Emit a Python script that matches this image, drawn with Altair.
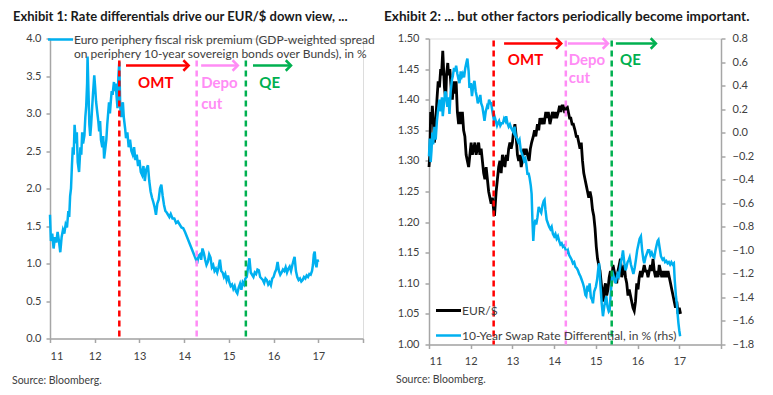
import altair as alt
import pandas as pd

# ---------------- data ----------------
left_t = [11.00, 11.02, 11.05, 11.08, 11.11, 11.14, 11.17, 11.20, 11.23, 11.26, 11.29, 11.32, 11.35, 11.38,
          11.41, 11.43, 11.45, 11.47, 11.49, 11.51, 11.53, 11.55, 11.58, 11.60, 11.62, 11.65, 11.68, 11.70,
          11.72, 11.74, 11.77, 11.79, 11.81, 11.83, 11.84, 11.86, 11.88, 11.90, 11.92, 11.94, 11.96, 11.99,
          12.01, 12.03, 12.06, 12.08, 12.10, 12.12, 12.14, 12.17, 12.19, 12.21, 12.23, 12.26, 12.28, 12.30,
          12.32, 12.34, 12.36, 12.38, 12.40, 12.43, 12.45, 12.47, 12.49, 12.51, 12.53, 12.55, 12.57, 12.59,
          12.61, 12.63, 12.65, 12.68, 12.70, 12.73, 12.76, 12.79, 12.82, 12.85, 12.88, 12.91, 12.94, 12.97,
          13.00, 13.03, 13.06, 13.09, 13.12, 13.15, 13.19, 13.22, 13.25, 13.28, 13.31, 13.34, 13.37, 13.40,
          13.43, 13.46, 13.49, 13.52, 13.55, 13.58, 13.61, 13.64, 13.67, 13.70, 13.74, 13.78, 13.82, 13.86,
          13.90, 13.94, 13.98, 14.02, 14.06, 14.10, 14.14, 14.18, 14.22, 14.26, 14.29, 14.32, 14.35, 14.38,
          14.41, 14.44, 14.47, 14.50, 14.53, 14.56, 14.59, 14.62, 14.65, 14.68, 14.71, 14.74, 14.77, 14.80,
          14.83, 14.86, 14.89, 14.92, 14.95, 14.98, 15.01, 15.04, 15.07, 15.10, 15.13, 15.16, 15.19, 15.22,
          15.25, 15.28, 15.31, 15.34, 15.37, 15.40, 15.43, 15.46, 15.49, 15.52, 15.55, 15.58, 15.61, 15.64,
          15.67, 15.70, 15.73, 15.76, 15.79, 15.82, 15.85, 15.88, 15.91, 15.94, 15.97, 16.00, 16.03, 16.06,
          16.09, 16.12, 16.15, 16.18, 16.21, 16.24, 16.27, 16.30, 16.33, 16.36, 16.39, 16.42, 16.45, 16.47,
          16.50, 16.53, 16.56, 16.59, 16.62, 16.65, 16.68, 16.71, 16.74, 16.77, 16.80, 16.83, 16.86, 16.88,
          16.90, 16.92, 16.94, 16.96, 16.98, 17.00]
left_v = [1.65, 1.30, 1.40, 1.20, 1.35, 1.28, 1.42, 1.30, 1.15, 1.35, 1.45, 1.40, 1.52, 1.48,
          1.70, 1.62, 1.90, 2.00, 2.30, 2.55, 2.45, 2.85, 2.60, 2.75, 2.35, 2.22, 2.55, 2.45,
          2.75, 2.60, 2.71, 2.95, 3.10, 3.40, 3.76, 3.30, 2.85, 2.70, 2.85, 3.05, 3.25, 3.51,
          3.35, 3.16, 3.00, 2.90, 2.76, 2.90, 2.65, 2.55, 2.70, 2.40, 2.50, 2.65, 2.85, 3.00,
          3.15, 3.00, 3.16, 3.30, 3.25, 3.42, 3.30, 3.40, 3.22, 3.07, 3.50, 3.69, 3.10, 2.95,
          3.07, 3.15, 2.95, 2.80, 2.67, 2.75, 2.55, 2.65, 2.50, 2.45, 2.55, 2.38, 2.45, 2.30,
          2.38, 2.22, 2.18, 2.30, 2.10, 2.25, 2.31, 2.10, 1.96, 1.88, 1.82, 1.75, 1.65, 1.80,
          1.85, 2.00, 2.05, 1.90, 1.78, 1.70, 1.68, 1.65, 1.62, 1.66, 1.60, 1.60, 1.54, 1.56,
          1.52, 1.48, 1.47, 1.42, 1.36, 1.30, 1.24, 1.18, 1.12, 1.06, 1.00, 1.10, 1.12, 1.05,
          1.20, 1.14, 1.05, 0.98, 1.02, 1.12, 1.08, 0.95, 0.98, 0.90, 0.93, 0.88, 0.95, 1.05,
          0.90, 0.88, 0.82, 0.86, 0.78, 0.84, 0.75, 0.70, 0.72, 0.66, 0.70, 0.63, 0.60, 0.68,
          0.73, 0.65, 0.75, 0.72, 0.80, 0.82, 0.95, 1.07, 0.88, 0.85, 0.82, 0.88, 0.86, 0.92,
          0.91, 0.82, 0.80, 0.78, 0.74, 0.80, 0.78, 0.72, 0.75, 0.71, 0.80, 0.82, 0.88, 0.92,
          1.02, 0.90, 0.85, 0.88, 0.92, 0.90, 0.95, 0.88, 0.93, 0.96, 0.90, 0.98, 1.05, 1.09,
          0.90, 0.82, 0.78, 0.80, 0.76, 0.78, 0.82, 0.80, 0.84, 0.82, 0.86, 0.85, 0.90, 0.98,
          1.12, 1.16, 1.00, 0.95, 1.05, 1.02]

eur_t = [11.00, 11.02, 11.04, 11.06, 11.08, 11.10, 11.13, 11.16, 11.19, 11.22, 11.25, 11.28, 11.30, 11.33,
         11.35, 11.37, 11.40, 11.42, 11.45, 11.47, 11.50, 11.53, 11.56, 11.59, 11.62, 11.65, 11.68, 11.71,
         11.74, 11.77, 11.80, 11.83, 11.86, 11.89, 11.92, 11.95, 11.98, 12.01, 12.04, 12.07, 12.10, 12.13,
         12.16, 12.19, 12.22, 12.25, 12.28, 12.31, 12.34, 12.37, 12.40, 12.43, 12.46, 12.49, 12.52, 12.55,
         12.57, 12.59, 12.61, 12.64, 12.67, 12.70, 12.73, 12.76, 12.79, 12.82, 12.85, 12.88, 12.91, 12.94,
         12.97, 13.00, 13.03, 13.06, 13.09, 13.12, 13.15, 13.18, 13.21, 13.24, 13.27, 13.30, 13.33, 13.36,
         13.40, 13.43, 13.46, 13.50, 13.53, 13.56, 13.60, 13.63, 13.66, 13.70, 13.73, 13.76, 13.80, 13.83,
         13.86, 13.90, 13.93, 13.96, 14.00, 14.03, 14.06, 14.10, 14.13, 14.16, 14.19, 14.22, 14.25, 14.28,
         14.31, 14.34, 14.37, 14.40, 14.43, 14.46, 14.50, 14.53, 14.56, 14.59, 14.62, 14.65, 14.68, 14.71,
         14.74, 14.77, 14.80, 14.83, 14.86, 14.89, 14.92, 14.95, 14.98, 15.01, 15.04, 15.07, 15.10, 15.13,
         15.16, 15.18, 15.20, 15.23, 15.26, 15.29, 15.32, 15.35, 15.38, 15.41, 15.44, 15.47, 15.50, 15.53,
         15.56, 15.59, 15.62, 15.65, 15.68, 15.71, 15.74, 15.77, 15.80, 15.83, 15.86, 15.89, 15.92, 15.95,
         15.98, 16.01, 16.04, 16.07, 16.10, 16.13, 16.16, 16.19, 16.22, 16.25, 16.28, 16.31, 16.34, 16.37,
         16.40, 16.43, 16.46, 16.49, 16.52, 16.55, 16.58, 16.61, 16.64, 16.67, 16.70, 16.73, 16.76, 16.79,
         16.82, 16.85, 16.88, 16.91, 16.94, 16.97, 17.00, 17.03]
eur_v = [1.29, 1.31, 1.38, 1.36, 1.39, 1.37, 1.33, 1.36, 1.40, 1.43, 1.42, 1.45, 1.44, 1.48,
         1.45, 1.42, 1.40, 1.44, 1.46, 1.44, 1.45, 1.42, 1.40, 1.43, 1.41, 1.43, 1.38, 1.36,
         1.38, 1.36, 1.38, 1.35, 1.34, 1.31, 1.30, 1.29, 1.31, 1.33, 1.31, 1.32, 1.33, 1.31,
         1.32, 1.33, 1.31, 1.32, 1.30, 1.28, 1.27, 1.29, 1.27, 1.25, 1.24, 1.23, 1.24, 1.22,
         1.21, 1.23, 1.25, 1.27, 1.29, 1.30, 1.28, 1.31, 1.30, 1.29, 1.31, 1.30, 1.32, 1.33,
         1.32, 1.33, 1.35, 1.36, 1.34, 1.31, 1.30, 1.31, 1.29, 1.30, 1.32, 1.31, 1.32, 1.31,
         1.30, 1.32, 1.33, 1.34, 1.35, 1.34, 1.36, 1.35, 1.37, 1.36, 1.37, 1.36, 1.38, 1.37,
         1.38, 1.36, 1.37, 1.38, 1.37, 1.38, 1.37, 1.38, 1.39, 1.38, 1.39, 1.39, 1.38, 1.38,
         1.39, 1.38, 1.37, 1.37, 1.36, 1.36, 1.35, 1.34, 1.34, 1.33, 1.32, 1.33, 1.30, 1.28,
         1.27, 1.26, 1.25, 1.24, 1.25, 1.24, 1.22, 1.21, 1.19, 1.16, 1.14, 1.13, 1.12, 1.10,
         1.08, 1.07, 1.09, 1.10, 1.08, 1.09, 1.11, 1.12, 1.10, 1.13, 1.12, 1.11, 1.10, 1.12,
         1.13, 1.14, 1.11, 1.12, 1.13, 1.11, 1.10, 1.08, 1.09, 1.08, 1.07, 1.06, 1.055, 1.07,
         1.10, 1.09, 1.11, 1.12, 1.11, 1.12, 1.13, 1.12, 1.12, 1.11, 1.12, 1.13, 1.12, 1.14,
         1.12, 1.11, 1.12, 1.11, 1.13, 1.12, 1.11, 1.12, 1.11, 1.12, 1.11, 1.12, 1.11, 1.10,
         1.09, 1.08, 1.07, 1.06, 1.07, 1.05, 1.06, 1.05]

swap_t = [11.00, 11.02, 11.04, 11.06, 11.08, 11.10, 11.13, 11.16, 11.19, 11.22, 11.25, 11.28, 11.31, 11.33,
          11.36, 11.39, 11.41, 11.44, 11.47, 11.49, 11.52, 11.55, 11.57, 11.60, 11.63, 11.65, 11.68, 11.71,
          11.73, 11.76, 11.79, 11.81, 11.84, 11.87, 11.90, 11.92, 11.95, 11.97, 12.00, 12.03, 12.06, 12.09,
          12.12, 12.15, 12.17, 12.20, 12.23, 12.25, 12.28, 12.31, 12.33, 12.36, 12.39, 12.41, 12.44, 12.47,
          12.49, 12.52, 12.55, 12.57, 12.60, 12.63, 12.65, 12.68, 12.71, 12.74, 12.77, 12.80, 12.83, 12.85,
          12.88, 12.91, 12.94, 12.97, 13.00, 13.03, 13.05, 13.08, 13.11, 13.14, 13.17, 13.20, 13.23, 13.25,
          13.28, 13.31, 13.33, 13.36, 13.39, 13.41, 13.44, 13.46, 13.48, 13.50, 13.52, 13.55, 13.57, 13.60,
          13.63, 13.66, 13.69, 13.72, 13.75, 13.77, 13.79, 13.82, 13.85, 13.88, 13.91, 13.94, 13.97, 14.00,
          14.03, 14.06, 14.09, 14.12, 14.15, 14.18, 14.21, 14.24, 14.27, 14.30, 14.33, 14.36, 14.39, 14.42,
          14.45, 14.48, 14.51, 14.54, 14.57, 14.60, 14.63, 14.66, 14.69, 14.72, 14.75, 14.77, 14.80, 14.83,
          14.85, 14.88, 14.91, 14.93, 14.96, 15.00, 15.03, 15.06, 15.08, 15.11, 15.14, 15.17, 15.20, 15.23,
          15.25, 15.28, 15.31, 15.33, 15.36, 15.39, 15.41, 15.44, 15.47, 15.49, 15.52, 15.55, 15.57, 15.60,
          15.63, 15.65, 15.68, 15.71, 15.73, 15.76, 15.79, 15.81, 15.84, 15.87, 15.90, 15.93, 15.96, 15.99,
          16.02, 16.05, 16.08, 16.11, 16.14, 16.16, 16.19, 16.22, 16.25, 16.28, 16.31, 16.34, 16.37, 16.40,
          16.43, 16.46, 16.48, 16.50, 16.53, 16.56, 16.60, 16.63, 16.66, 16.69, 16.72, 16.75, 16.78, 16.81,
          16.84, 16.87, 16.89, 16.92, 16.94, 16.96, 16.98, 17.00, 17.02]
swap_v = [-0.20, -0.05, -0.25, -0.15, 0.00, -0.10, 0.05, -0.06, 0.10, 0.20, 0.28, 0.18, 0.30, 0.14,
          0.25, 0.35, 0.33, 0.22, 0.30, 0.16, 0.35, 0.45, 0.48, 0.55, 0.52, 0.57, 0.50, 0.45,
          0.42, 0.52, 0.48, 0.50, 0.47, 0.55, 0.60, 0.63, 0.52, 0.38, 0.42, 0.31, 0.40, 0.44,
          0.35, 0.30, 0.25, 0.28, 0.32, 0.25, 0.22, 0.15, 0.10, 0.18, 0.22, 0.20, 0.28, 0.25,
          0.25, 0.18, 0.12, 0.14, 0.10, 0.06, 0.08, 0.10, 0.06, 0.08, 0.08, 0.12, 0.10, 0.14,
          0.08, 0.05, 0.07, 0.04, 0.02, 0.00, 0.05, -0.03, -0.05, -0.08, -0.06, -0.15, -0.18, -0.20,
          -0.24, -0.22, -0.26, -0.35, -0.35, -0.38, -0.45, -0.52, -0.75, -0.92, -0.80, -0.74, -0.78, -0.72,
          -0.63, -0.66, -0.68, -0.62, -0.58, -0.57, -0.65, -0.74, -0.77, -0.80, -0.82, -0.80, -0.86, -0.88,
          -0.86, -0.90, -0.88, -0.92, -0.95, -0.94, -0.97, -0.96, -0.99, -1.02, -1.00, -1.04, -1.06, -1.08,
          -1.11, -1.10, -1.14, -1.15, -1.17, -1.20, -1.22, -1.25, -1.28, -1.32, -1.38, -1.39, -1.30, -1.35,
          -1.28, -1.40, -1.42, -1.45, -1.35, -1.31, -1.25, -1.15, -1.11, -1.30, -1.45, -1.56, -1.48, -1.42,
          -1.39, -1.48, -1.52, -1.51, -1.35, -1.22, -1.20, -1.24, -1.28, -1.25, -1.20, -1.22, -1.17, -1.10,
          -1.05, -1.00, -1.10, -1.17, -1.15, -1.10, -1.08, -1.06, -1.12, -1.16, -1.20, -1.15, -1.08, -1.00,
          -0.95, -0.90, -0.88, -1.00, -1.08, -1.11, -1.06, -1.03, -1.00, -1.00, -1.04, -1.02, -1.05, -1.06,
          -1.00, -0.95, -0.92, -0.91, -0.98, -1.05, -1.08, -1.07, -1.10, -1.09, -1.11, -1.10, -1.12, -1.10,
          -1.12, -1.11, -1.25, -1.39, -1.45, -1.54, -1.62, -1.68, -1.73]

x_ticks = [11, 12, 13, 14, 15, 16, 17, 18]
left_y_ticks = [0.0, 0.5, 1.0, 1.5, 2.0, 2.5, 3.0, 3.5, 4.0]
eur_ticks = [1.00, 1.05, 1.10, 1.15, 1.20, 1.25, 1.30, 1.35, 1.40, 1.45, 1.50]
swap_ticks = [-1.8, -1.6, -1.4, -1.2, -1.0, -0.8, -0.6, -0.4, -0.2, 0.0, 0.2, 0.4, 0.6, 0.8]

event_dates = [12.55, 14.28, 15.38]
event_colors = ["#FF0000", "#FF8CF5", "#00B050"]
event_labels = ["OMT", "Depo", "QE"]
arrow_start_left = [12.70, 14.38, 15.54]
arrow_end_left = [14.10, 15.20, 16.39]
arrow_start_right = [12.80, 14.33, 15.48]
arrow_end_right = [14.17, 15.29, 16.44]
label_x_left = [12.97, 14.38, 15.68]
label_x_right = [12.89, 14.35, 15.58]

title_left = "Exhibit 1: Rate differentials drive our EUR/$ down view, ..."
title_right = "Exhibit 2: ... but other factors periodically become important."
legend_left = ["Euro periphery fiscal risk premium (GDP-weighted spread",
               "on periphery 10-year sovereign bonds over Bunds), in %"]
legend_right = ["EUR/$", "10-Year Swap Rate Differential, in % (rhs)"]
source_text = "Source: Bloomberg."

# ---------------- styling ----------------
W1, H1 = 313, 300
W2, H2 = 292, 306
FONT = "Lato"
AX = "#A6A6A6"
LBL = "#404040"
BLUE = "#00B0F0"

xscale = alt.Scale(domain=[11, 18], nice=False, zero=False)


def x_axis(pad):
    return alt.Axis(values=x_ticks, format="d", labelExpr="datum.value < 18 ? datum.label : ''",
                    grid=False, title=None, domainColor=AX, domainWidth=1.5, tickColor=AX,
                    tickWidth=1.5, tickSize=4, labelFont=FONT, labelFontSize=11, labelColor=LBL,
                    labelPadding=pad)


def y_axis(values, fmt, orient, pad):
    return alt.Axis(values=values, format=fmt, orient=orient, grid=False, title=None,
                    domainColor=AX, domainWidth=1.5, tickColor=AX, tickWidth=1.5, tickSize=4,
                    labelFont=FONT, labelFontSize=11, labelColor=LBL, labelPadding=pad)


def events_layers(a_start, a_end, lab_x, top, arrow_y, lab_y, cut_y, height):
    ev = pd.DataFrame({"t": event_dates, "color": event_colors})
    rules = alt.Chart(ev).mark_rule(strokeDash=[6, 4], strokeWidth=2.5).encode(
        x=alt.X("t:Q", scale=xscale), y=alt.value(top), y2=alt.value(height),
        color=alt.Color("color:N", scale=None))
    ar = pd.DataFrame({"t": a_start, "t2": a_end, "color": event_colors})
    shafts = alt.Chart(ar).mark_rule(strokeWidth=2.5).encode(
        x=alt.X("t:Q", scale=xscale), x2="t2:Q", y=alt.value(arrow_y),
        color=alt.Color("color:N", scale=None))
    heads = alt.Chart(ar).mark_point(shape="M-1,-1L0,0L-1,1", size=110, strokeWidth=2.5,
                                     filled=False, opacity=1).encode(
        x=alt.X("t2:Q", scale=xscale), y=alt.value(arrow_y),
        color=alt.Color("color:N", scale=None))
    lab = pd.DataFrame({"t": lab_x, "label": event_labels, "color": event_colors})
    labels = alt.Chart(lab).mark_text(font=FONT, fontSize=15, fontWeight="bold", align="left",
                                      baseline="middle").encode(
        x=alt.X("t:Q", scale=xscale), y=alt.value(lab_y), text="label:N",
        color=alt.Color("color:N", scale=None))
    cut = pd.DataFrame({"t": [lab_x[1]], "label": ["cut"], "color": [event_colors[1]]})
    cut_lab = alt.Chart(cut).mark_text(font=FONT, fontSize=15, fontWeight="bold", align="left",
                                       baseline="middle").encode(
        x=alt.X("t:Q", scale=xscale), y=alt.value(cut_y), text="label:N",
        color=alt.Color("color:N", scale=None))
    return [rules, shafts, heads, labels, cut_lab]


def text_layer(txt, x, y, size, weight="normal", color=LBL):
    return alt.Chart(pd.DataFrame({"txt": [txt]})).mark_text(
        font=FONT, fontSize=size, fontWeight=weight, align="left", baseline="middle",
        color=color).encode(x=alt.value(x), y=alt.value(y), text="txt:N")


# ---------------- left panel ----------------
df_left = pd.DataFrame({"t": left_t, "v": left_v})
left_line = alt.Chart(df_left).mark_line(color=BLUE, strokeWidth=2.5).encode(
    x=alt.X("t:Q", scale=xscale, axis=x_axis(8)),
    y=alt.Y("v:Q", scale=alt.Scale(domain=[0, 4], nice=False), axis=y_axis(left_y_ticks, ".1f", "left", 5)))

left_legend_line = alt.Chart(pd.DataFrame({"a": [0]})).mark_rule(color=BLUE, strokeWidth=2.5).encode(
    x=alt.value(-2), x2=alt.value(23), y=alt.value(1))

left = alt.layer(
    left_line,
    *events_layers(arrow_start_left, arrow_end_left, label_x_left, 22, 27, 44, 65, H1),
    left_legend_line,
    text_layer(legend_left[0], 24, 1, 12),
    text_layer(legend_left[1], 24, 15, 12),
    text_layer(title_left, -37, -22, 13, "bold", "#1A1A1A"),
    text_layer(source_text, -38, 342, 10.5),
).properties(width=W1, height=H1)

# ---------------- right panel ----------------
df_eur = pd.DataFrame({"t": eur_t, "v": eur_v})
df_swap = pd.DataFrame({"t": swap_t, "v": swap_v})

eur_line = alt.Chart(df_eur).mark_line(color="#000000", strokeWidth=2.8).encode(
    x=alt.X("t:Q", scale=xscale, axis=x_axis(7)),
    y=alt.Y("v:Q", scale=alt.Scale(domain=[1.0, 1.5], nice=False, zero=False),
            axis=y_axis(eur_ticks, ".2f", "left", 6)))
swap_line = alt.Chart(df_swap).mark_line(color=BLUE, strokeWidth=2.5).encode(
    x=alt.X("t:Q", scale=xscale),
    y=alt.Y("v:Q", scale=alt.Scale(domain=[-1.8, 0.8], nice=False, zero=False),
            axis=y_axis(swap_ticks, ".1f", "right", 7)))

r_leg1 = alt.Chart(pd.DataFrame({"a": [0]})).mark_rule(color="#000000", strokeWidth=3).encode(
    x=alt.value(7), x2=alt.value(32), y=alt.value(272))
r_leg2 = alt.Chart(pd.DataFrame({"a": [0]})).mark_rule(color=BLUE, strokeWidth=2.5).encode(
    x=alt.value(7), x2=alt.value(32), y=alt.value(297))

right = alt.layer(
    eur_line, swap_line,
    *events_layers(arrow_start_right, arrow_end_right, label_x_right, 2, 5, 21, 39, H2),
    r_leg1, r_leg2,
    text_layer(legend_right[0], 33, 272, 12),
    text_layer(legend_right[1], 33, 297, 12),
    text_layer(title_right, -45, -22, 13.6, "bold", "#1A1A1A"),
    text_layer(source_text, -33, 341, 10.5),
).resolve_scale(y="independent").properties(width=W2, height=H2)

chart = alt.hconcat(left, right, spacing=66, bounds="flush").properties(
    padding={"left": 3, "top": 0.5, "right": 0, "bottom": 0}
).configure_view(stroke=None).configure(background="white")

chart.save("out.html", embed_options={"renderer": "svg", "actions": False})
